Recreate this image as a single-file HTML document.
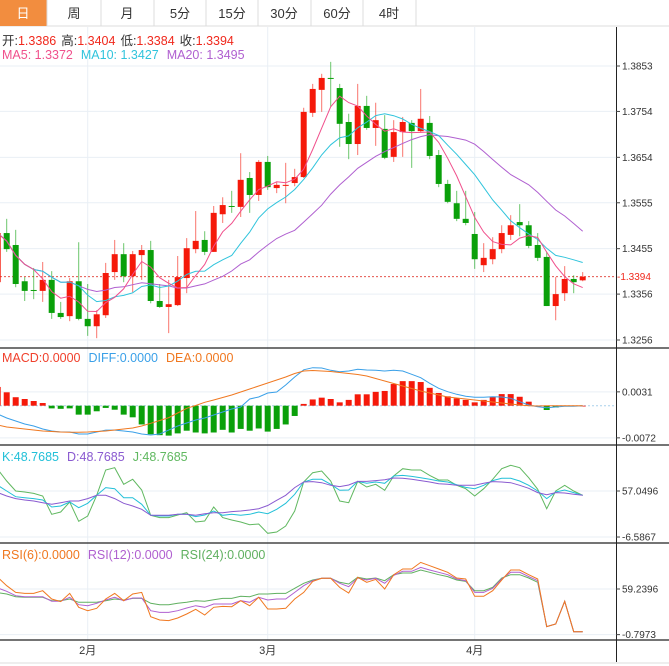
<!DOCTYPE html>
<html><head><meta charset="utf-8"><style>
html,body{margin:0;padding:0;background:#fff;}
svg{display:block;font-family:"Liberation Sans","Noto Sans CJK SC",sans-serif;}
</style></head><body>
<svg id="c" width="669" height="666" viewBox="0 0 669 666" xmlns="http://www.w3.org/2000/svg">
<defs><clipPath id="plot"><rect x="0" y="26" width="616" height="620"/></clipPath></defs>
<rect x="0" y="0" width="669" height="666" fill="#fff"/>
<g id="toolbar">
  <rect x="0" y="0" width="669" height="26" fill="#fff"/>
  <line x1="0" y1="26" x2="669" y2="26" stroke="#dcdcdc"/>
  <rect x="0" y="0" width="47" height="26" fill="#f28d3f"/>
  <text x="23" y="18" fill="#fff" font-size="13" text-anchor="middle">日</text>
  <g><text x="74" y="18" font-size="13" fill="#333" text-anchor="middle">周</text></g>
  <g><text x="127" y="18" font-size="13" fill="#333" text-anchor="middle">月</text></g>
  <g><text x="180" y="18" font-size="13" fill="#333" text-anchor="middle">5分</text></g>
  <g><text x="232" y="18" font-size="13" fill="#333" text-anchor="middle">15分</text></g>
  <g><text x="284" y="18" font-size="13" fill="#333" text-anchor="middle">30分</text></g>
  <g><text x="337" y="18" font-size="13" fill="#333" text-anchor="middle">60分</text></g>
  <g><text x="389" y="18" font-size="13" fill="#333" text-anchor="middle">4时</text></g>
  <g stroke="#dcdcdc"><line x1="47" y1="0" x2="47" y2="26"/><line x1="101" y1="0" x2="101" y2="26"/><line x1="154" y1="0" x2="154" y2="26"/><line x1="206" y1="0" x2="206" y2="26"/><line x1="258" y1="0" x2="258" y2="26"/><line x1="311" y1="0" x2="311" y2="26"/><line x1="363" y1="0" x2="363" y2="26"/><line x1="416" y1="0" x2="416" y2="26"/></g>
</g>
<g id="grid"></g>
<g id="frame"></g>
<g id="marks" clip-path="url(#plot)"></g>
<g id="axis"></g>
<g id="legend" font-size="12.5">
  <text x="2" y="45"><tspan fill="#333">开:</tspan><tspan fill="#f0281c">1.3386</tspan><tspan fill="#333" dx="5">高:</tspan><tspan fill="#f0281c">1.3404</tspan><tspan fill="#333" dx="5">低:</tspan><tspan fill="#f0281c">1.3384</tspan><tspan fill="#333" dx="5">收:</tspan><tspan fill="#f0281c">1.3394</tspan></text>
  <text x="2" y="59"><tspan fill="#f0508c">MA5: 1.3372</tspan><tspan fill="#30c4dc" dx="8">MA10: 1.3427</tspan><tspan fill="#b060d0" dx="8">MA20: 1.3495</tspan></text>
  <text x="2" y="362"><tspan fill="#f0402c">MACD:0.0000</tspan><tspan fill="#3aa0e8" dx="8">DIFF:0.0000</tspan><tspan fill="#f07820" dx="8">DEA:0.0000</tspan></text>
  <text x="2" y="461"><tspan fill="#22c0d8">K:48.7685</tspan><tspan fill="#8a5ad0" dx="8">D:48.7685</tspan><tspan fill="#60b860" dx="8">J:48.7685</tspan></text>
  <text x="2" y="559"><tspan fill="#f07820">RSI(6):0.0000</tspan><tspan fill="#b060d0" dx="8">RSI(12):0.0000</tspan><tspan fill="#60b060" dx="8">RSI(24):0.0000</tspan></text>
</g>
</svg>
<script>
// prices in pips (x 1e-4)
const opens=[13382,13489,13463,13384,13365,13363,13387,13315,13308,13384,13302,13286,13310,13404,13443,13395,13441,13452,13341,13328,13332,13391,13454,13474,13448,13530,13548,13546,13609,13572,13644,13587,13592,13598,13611,13751,13801,13827,13805,13731,13683,13766,13718,13716,13655,13709,13729,13711,13729,13659,13596,13554,13520,13487,13419,13432,13454,13485,13513,13506,13463,13437,13330,13358,13389,13386];
const highs=[13506,13520,13496,13393,13413,13426,13406,13339,13391,13469,13378,13321,13424,13474,13467,13450,13463,13472,13378,13387,13439,13478,13537,13493,13548,13567,13581,13663,13622,13648,13657,13600,13642,13629,13762,13814,13836,13862,13814,13749,13814,13788,13773,13746,13735,13742,13735,13803,13744,13670,13605,13581,13581,13535,13467,13480,13506,13528,13552,13515,13489,13448,13393,13417,13397,13404];
const lows=[13365,13448,13371,13341,13345,13339,13302,13302,13297,13299,13265,13260,13304,13387,13382,13360,13387,13336,13326,13271,13330,13358,13445,13441,13448,13511,13533,13524,13533,13559,13583,13576,13554,13591,13609,13742,13753,13764,13677,13650,13659,13714,13679,13650,13644,13655,13631,13709,13650,13589,13554,13515,13506,13411,13404,13421,13445,13474,13482,13456,13428,13330,13299,13341,13358,13384];
const closes=[13489,13454,13378,13363,13364,13387,13315,13306,13384,13302,13286,13312,13402,13443,13395,13443,13452,13341,13328,13334,13393,13456,13472,13448,13533,13550,13547,13605,13572,13644,13589,13594,13594,13611,13753,13803,13827,13826,13727,13683,13766,13718,13735,13653,13709,13731,13711,13738,13657,13596,13557,13520,13511,13432,13435,13454,13489,13506,13506,13461,13435,13330,13356,13389,13382,13394];
// MACD values in 1e-4 units
const macdHist=[42,30,19,15,10.5,6,-6,-7,-6,-20,-20,-12.5,-5,-9,-20,-26,-42,-64,-66,-67,-62,-56,-60,-62,-60,-54,-60,-52,-56,-51,-58,-52,-42,-23,4,14,18,15,7.5,13,25.5,25.5,31,33,48.5,55,55,53,40,28.5,21,16.5,13,7.5,13,20,26,26,20,9,0,-9.6,-4,-1,0,0];
const diffVals=[-18.6,-27.5,-34.3,-41,-45.5,-52.2,-56.6,-58.9,-58.9,-63.4,-63.4,-58.9,-54.7,-54.7,-56.6,-58.9,-63.4,-65.6,-63.4,-54.7,-45.5,-38.7,-32,-27.5,-20.8,-14.1,-7.4,-2.9,15,19.5,28.4,30.7,46.3,64.3,80.4,85.1,84.4,79.3,76.1,77.7,81.5,79.9,79.3,77.7,79.3,77.7,70.3,62.7,50.2,39,31.3,25.5,21,18.8,18.8,20.2,19.5,16.6,9,1.6,-2.2,-4.5,-2.9,-1.3,-1.3,0];
const deaVals=[-43.2,-47.7,-49.9,-52.2,-54.4,-56.6,-57.8,-58.9,-59.6,-59.6,-58.9,-57.8,-56.6,-54.4,-52.2,-49.9,-45.5,-39.4,-33.1,-26.9,-16.3,-5.8,0.4,7.6,12.8,18.4,24,30.7,37.4,44.1,50.8,57.5,64.3,72.1,77.7,78.8,77.7,76.6,74.3,72.1,69.9,66.5,60.9,55.3,49.7,44.1,38.5,32.9,28.4,24,19.5,17.2,15,12.8,10.5,8.3,6,3.8,1.6,0,-0.7,0,0,0,0,0];
const kVals=[64.9,57.1,49.2,47.8,46.5,44.6,34.9,36.3,41.9,34.0,40.0,51.1,61.7,60.3,47.8,47.8,38.6,23.4,22.5,22.5,24.8,24.8,21.6,23.9,29.4,23.4,24.8,23.4,24.8,28.0,25.7,31.7,40.0,52.5,69.5,73.2,73.2,66.3,58.0,58.4,70.4,67.7,69.5,67.7,77.8,78.7,77.3,75.5,73.2,70.9,69.5,65.8,62.1,60.3,64.9,71.4,74.6,74.6,70.9,64.9,57.1,46.5,55.7,58.4,54.8,51.1];
const dVals=[54.8,50.2,46.5,44.6,43.2,40.9,38.6,40.9,43.2,43.2,46.5,51.1,51.1,46.5,40.0,36.3,31.7,23.4,23.4,23.4,24.8,24.8,23.4,25.7,27.1,27.1,28.5,29.4,30.8,32.6,37,44.2,51.1,61.7,69.5,70.0,68.6,64.9,63.1,65.4,70.4,70.4,71.4,72.7,75.0,74.6,73.2,71.4,69.5,67.2,66.3,64.9,64.9,64.9,67.7,70.0,69.5,68.6,64.9,60.8,54.8,52.0,54.8,54.3,52.5,51.1];
const jVals=[87.0,70.9,57.1,55.7,53.8,50.2,24.8,28.0,41.9,15.1,22.5,51.1,86.1,89.3,66.3,73.2,58.4,23.4,20.2,20.2,23.9,27.1,14.2,15.6,34.9,20.2,17.0,14.2,10.5,11.4,-1.5,0.4,8.7,29.4,69.5,82.4,84.7,70.9,43.2,40.9,70.4,62.6,66.3,58.0,77.8,87.9,86.1,86.1,78.7,72.3,72.3,64.9,60.3,50.2,60.3,73.2,87.9,92.6,89.3,75.5,59.4,32.6,57.1,64.9,57.1,51.1];
const rsi6Vals=[74.6,63.6,54.8,53.5,53.5,57.0,46.1,42.6,53.5,35.1,30.7,33.8,46.1,53.5,43.9,52.7,54.8,22.8,18.5,17.6,21.1,26.3,32.5,25.0,35.1,36.4,36.0,43.9,37.3,48.3,32.9,32.9,33.8,46.1,54.8,69.3,73.3,73.3,61.4,54.0,74.6,68.0,71.9,59.2,78.1,85.6,85.6,94.3,89.9,85.6,81.2,73.7,72.4,49.6,49.6,57.0,71.1,84.2,84.2,78.1,72.4,9.7,13.2,43.0,3.1,3.1];
const rsi12Vals=[60.6,56.2,50.4,49.1,49.1,49.1,43.0,43.0,48.3,38.6,37.3,40.4,44.8,48.3,43.9,47.4,47.4,30.7,28.5,28.5,30.7,34.2,37.3,35.1,39.5,39.5,39.5,43.9,41.7,48.3,44.8,46.1,46.1,54.8,63.6,70.2,73.3,73.3,66.7,62.3,73.7,71.1,73.3,66.7,77.2,82.5,82.5,87.7,84.2,81.2,78.1,72.4,70.2,54.8,54.8,60.1,72.4,81.2,81.2,75.5,70.2,9.7,13.2,43.0,3.1,3.1];
const rsi24Vals=[54.4,52.7,49.1,48.3,48.3,48.3,43.9,43.9,46.1,41.7,41.7,41.7,43.9,46.1,44.8,46.9,46.9,40.4,38.6,38.6,40.4,41.7,43.9,43.0,45.2,46.9,46.9,49.6,49.1,52.7,52.7,53.5,53.5,60.1,66.7,71.1,73.3,73.3,68.0,65.8,74.6,72.4,73.7,70.2,78.1,80.3,80.3,84.2,81.2,78.1,75.5,71.1,69.3,57.0,57.0,61.4,73.7,78.1,78.1,73.7,68.0,9.7,13.2,43.0,3.1,3.1];
const priceTicks=["1.3853","1.3754","1.3654","1.3555","1.3455","1.3356","1.3256"];
const macdTicks=["0.0031","-0.0072"];
const kdjTicks=["57.0496","-6.5867"];
const rsiTicks=["59.2396","-0.7973"];
const monthLabels=["2月","3月","4月"];
const monthIndex=[10,30,53];
const lastPrice="1.3394";

const NS="http://www.w3.org/2000/svg";
function mk(tag,attrs,parent){const e=document.createElementNS(NS,tag);for(const k in attrs)e.setAttribute(k,attrs[k]);(parent||marks).appendChild(e);return e;}
const marks=document.getElementById('marks'),grid=document.getElementById('grid'),axis=document.getElementById('axis'),frame=document.getElementById('frame');
const N=closes.length;
const xAt=i=>-2.3+9*i;
const yP=v=>66+(13853-v)/(13853-13256)*274;
const yMacd=v=>405.7-v*0.4466;          // v in 1e-4
const yKdj=v=>446+(119.3-v)*0.723;
const yRsi=v=>544+(118.45-v)*0.76;
const RED="#f5190a",GREEN="#0aa00a";

priceTicks.forEach(t=>{const y=yP(parseFloat(t)*10000);const l=mk('line',{x1:0,y1:y,x2:616,y2:y,stroke:"#e9eff5"},grid);});
[[macdTicks,v=>yMacd(parseFloat(v)*10000)],[kdjTicks,v=>yKdj(parseFloat(v))],[rsiTicks,v=>yRsi(parseFloat(v))]].forEach(([ts,f])=>ts.forEach(t=>{const y=f(t);const l=mk('line',{x1:0,y1:y,x2:616,y2:y,stroke:"#e9eff5"},grid);}));
monthIndex.forEach((mi,k)=>{const x=xAt(mi);const l=mk('line',{x1:x,y1:27,x2:x,y2:640,stroke:"#e9eff5"},grid);
 const t=mk('text',{x:x,y:654,"font-size":"11","text-anchor":"middle",fill:"#333"},axis);t.textContent=monthLabels[k];});
[348,445,543,640].forEach(y=>{const l=mk('line',{x1:0,y1:y,x2:669,y2:y,stroke:"#222","stroke-width":1.2},frame);});
{const l=mk('line',{x1:616.5,y1:27,x2:616.5,y2:662,stroke:"#222"},frame);
 const b=mk('line',{x1:0,y1:663,x2:669,y2:663,stroke:"#ddd"},frame);}
function tick(y,txt,color){const l=mk('line',{x1:616,y1:y,x2:620,y2:y,stroke:"#444"},axis);
 const t=mk('text',{x:622,y:y+3.5,"font-size":"10",fill:color||"#333"},axis);t.textContent=txt;}
priceTicks.forEach(t=>tick(yP(parseFloat(t)*10000),t));
macdTicks.forEach(t=>tick(yMacd(parseFloat(t)*10000),t));
kdjTicks.forEach(t=>tick(yKdj(parseFloat(t)),t));
rsiTicks.forEach(t=>tick(yRsi(parseFloat(t)),t));
{const y=yP(parseFloat(lastPrice)*10000);const l=mk('line',{x1:0,y1:y,x2:616,y2:y,stroke:"#e03a30","stroke-dasharray":"2,2","stroke-width":0.8},grid);
 const t=mk('text',{x:617,y:y+3.5,"font-size":"10",fill:"#f0281c"},axis);t.textContent="-"+lastPrice;}
for(let i=0;i<N;i++){const up=closes[i]>=opens[i];const col=up?RED:GREEN;const x=xAt(i);
 const w=mk('line',{x1:x,y1:yP(highs[i]),x2:x,y2:yP(lows[i]),stroke:col,"stroke-opacity":0.6});
 
 const t=yP(Math.max(opens[i],closes[i])),b=yP(Math.min(opens[i],closes[i]));
 const r=mk('rect',{x:x-3,y:t,width:6,height:Math.max(1,b-t),fill:col});
 }
function ma(n){return closes.map((c,i)=>{const s=closes.slice(Math.max(0,i-n+1),i+1);return s.reduce((a,b)=>a+b,0)/s.length;});}
function line(vals,fy,col,name){const pts=[];vals.forEach((v,i)=>{if(v!=null)pts.push(xAt(i).toFixed(1)+","+fy(v).toFixed(1));});
 const p=mk('polyline',{points:pts.join(" "),fill:"none",stroke:col,"stroke-width":1});}
line(ma(20),yP,"#b060d0","ma20-line");
line(ma(10),yP,"#30c4dc","ma10-line");
line(ma(5),yP,"#f0508c","ma5-line");
// MACD pane
{const z=mk('line',{x1:0,y1:yMacd(0),x2:616,y2:yMacd(0),stroke:"#a8d0ec","stroke-dasharray":"2,2"},grid);}
macdHist.forEach((h,i)=>{const y0=yMacd(0),y1=yMacd(h);
 const r=mk('rect',{x:xAt(i)-3,y:Math.min(y0,y1),width:6,height:Math.max(0.8,Math.abs(y1-y0)),fill:h>=0?RED:GREEN});
 });
line(diffVals,yMacd,"#3aa0e8","diff-line");
line(deaVals,yMacd,"#f07820","dea-line");
// KDJ pane
line(jVals,yKdj,"#60b860","j-line");
line(kVals,yKdj,"#22c0d8","k-line");
line(dVals,yKdj,"#8a5ad0","d-line");
// RSI pane
line(rsi24Vals,yRsi,"#60b060","rsi24-line");
line(rsi12Vals,yRsi,"#b060d0","rsi12-line");
line(rsi6Vals,yRsi,"#f07820","rsi6-line");
</script>
</body></html>
